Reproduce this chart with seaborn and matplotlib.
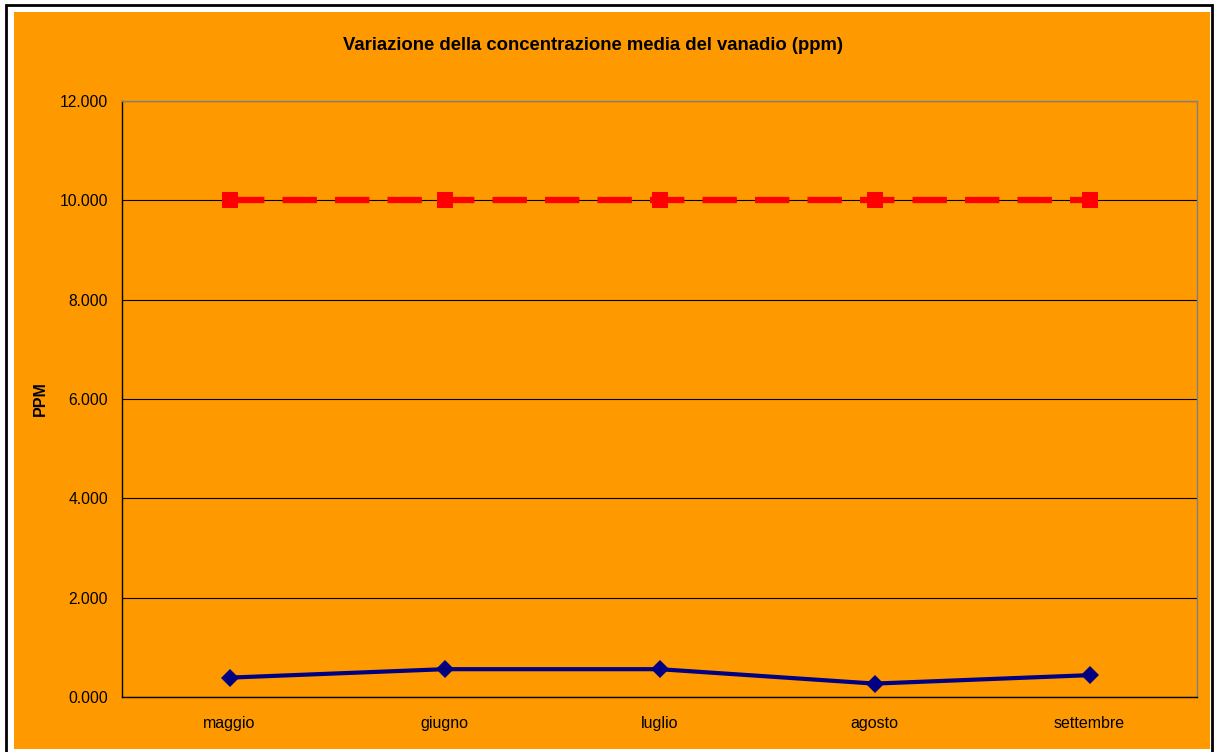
import numpy as np
import pandas as pd
import matplotlib.pyplot as plt
import seaborn as sns
from matplotlib.patches import Rectangle
from matplotlib.ticker import FuncFormatter

# dati
mesi = ['maggio', 'giugno', 'luglio', 'agosto', 'settembre']
vanadio = [0.39, 0.56, 0.56, 0.27, 0.44]
limite = [10.0, 10.0, 10.0, 10.0, 10.0]

df = pd.DataFrame({'mese': mesi, 'vanadio': vanadio, 'limite': limite})
df['pos'] = np.arange(len(mesi))

sns.set_style('white')
plt.rcParams['font.family'] = ['Liberation Sans', 'DejaVu Sans']
plt.rcParams['text.color'] = 'black'
plt.rcParams['xtick.color'] = 'black'
plt.rcParams['ytick.color'] = 'black'
plt.rcParams['axes.labelcolor'] = 'black'

W, H = 1214, 752
fig = plt.figure(figsize=(W / 100, H / 100), dpi=100, facecolor='white')

# sfondo arancione + bordo
fig.patches.append(Rectangle((6 / W, -3 / H), 1206 / W, 750 / H, transform=fig.transFigure,
                             facecolor='none', edgecolor='black', linewidth=2, zorder=-2))
fig.patches.append(Rectangle((14 / W, 3 / H), 1196 / W, 737 / H, transform=fig.transFigure,
                             facecolor='#FF9900', edgecolor='none', zorder=-1))

ax = fig.add_axes([122 / W, 1 - 697 / H, (1197 - 122) / W, (697 - 101) / H])
ax.set_facecolor('#FF9900')

sns.lineplot(data=df, x='pos', y='limite', ax=ax, color='#FF0000', linewidth=4.5,
             marker='s', markersize=11.5, markeredgewidth=0, zorder=3)
ax.lines[-1].set_dashes([5.5, 2.9])
sns.lineplot(data=df, x='pos', y='vanadio', ax=ax, color='#000080', linewidth=3,
             marker='D', markersize=9, markeredgewidth=0, zorder=3)

ax.set_xlim(-0.5, len(mesi) - 0.5)
ax.set_ylim(0, 12)
ax.set_yticks(np.arange(0, 12.1, 2))
ax.yaxis.set_major_formatter(FuncFormatter(lambda v, p: f'{v:.3f}'))
ax.set_xticks(np.arange(len(mesi)))
ax.set_xticklabels(mesi)
ax.set_xticks(np.arange(-0.5, len(mesi)), minor=True)
ax.tick_params(axis='x', which='major', length=0, pad=14, labelsize=11.5)
ax.tick_params(axis='x', which='minor', length=5, width=1, color='black', direction='out')
ax.tick_params(axis='y', length=5, width=1, color='black', direction='out', pad=5, labelsize=11.3)
ax.grid(axis='y', color='black', linewidth=0.8, zorder=1)
ax.set_axisbelow(True)

for s in ['left', 'bottom']:
    ax.spines[s].set_color('black')
    ax.spines[s].set_linewidth(1)
for s in ['top', 'right']:
    ax.spines[s].set_color('#808080')
    ax.spines[s].set_linewidth(1)

ax.set_xlabel('')
ax.set_ylabel('PPM', fontsize=11.5, fontweight='bold')
ax.yaxis.set_label_coords((48 - 122) / (1197 - 122), 0.5)
fig.text(593 / W, 1 - 45 / H, 'Variazione della concentrazione media del vanadio (ppm)',
         ha='center', va='center', fontsize=13.3, fontweight='bold')

fig.savefig('out.png', dpi=100, facecolor='white')
